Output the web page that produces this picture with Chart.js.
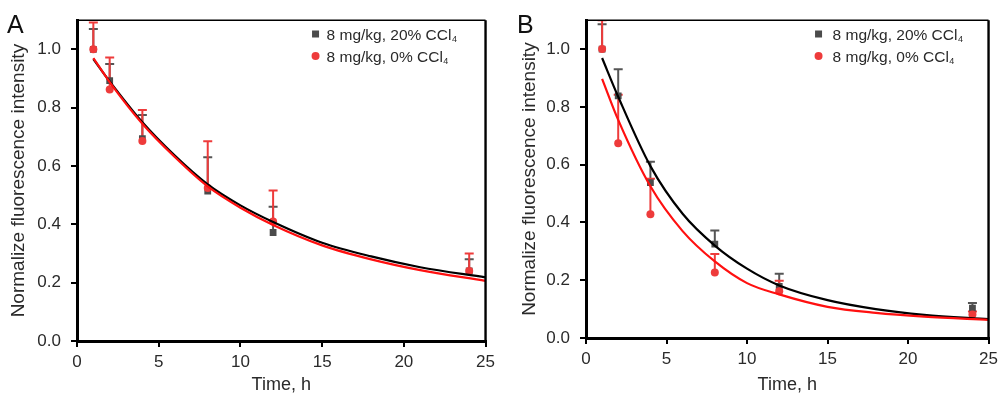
<!DOCTYPE html>
<html>
<head>
<meta charset="utf-8">
<script src="https://cdn.jsdelivr.net/npm/chart.js@4.4.1/dist/chart.umd.min.js"></script>
<style>
  html, body { margin: 0; padding: 0; background: #fff; }
  #wrap { position: relative; width: 1003px; height: 396px; }
  .panel { position: absolute; top: 0; }
  #panelA { left: 0; }
  #panelB { left: 500px; }
</style>
</head>
<body>
<div id="wrap">
  <div class="panel" id="panelA"><canvas id="chartA" width="500" height="396"></canvas></div>
  <div class="panel" id="panelB"><canvas id="chartB" width="503" height="396"></canvas></div>
</div>
<script>
const timePoints = [1, 2, 4, 8, 12, 24];
const curveTimes = [1, 2, 4, 6, 8, 10, 12, 15, 18, 21, 25];
const xTicks = [0, 5, 10, 15, 20, 25];
const yTicks = [0, 0.2, 0.4, 0.6, 0.8, 1.0];
const seriesNames = ["8 mg/kg, 20% CCl", "8 mg/kg, 0% CCl"];
const subscript = "4";

// panel A
const aMean20 = [1.0, 0.893, 0.694, 0.514, 0.372, 0.24];
const aSd20 = [0.07, 0.057, 0.081, 0.116, 0.088, 0.04];
const aMean0 = [1.0, 0.862, 0.686, 0.525, 0.41, 0.24];
const aSd0 = [0.092, 0.11, 0.106, 0.16, 0.106, 0.06];
const aFit20 = [0.967, 0.89, 0.75, 0.635, 0.537, 0.465, 0.408, 0.337, 0.29, 0.253, 0.218];
const aFit0 = [0.97, 0.888, 0.745, 0.63, 0.53, 0.457, 0.398, 0.328, 0.28, 0.243, 0.206];

// panel B
const bMean20 = [1.0, 0.838, 0.538, 0.325, 0.179, 0.103];
const bSd20 = [0.086, 0.092, 0.072, 0.047, 0.043, 0.018];
const bMean0 = [1.0, 0.674, 0.428, 0.227, 0.162, 0.081];
const bSd0 = [0.10, 0.168, 0.123, 0.064, 0.036, 0.011];
const bFit20 = [0.969, 0.835, 0.595, 0.43, 0.32, 0.24, 0.182, 0.131, 0.1, 0.08, 0.065];
const bFit0 = [0.897, 0.755, 0.525, 0.37, 0.265, 0.19, 0.151, 0.108, 0.087, 0.074, 0.063];

const GRAY = "#4b4b4b";
const GRAY_BAR = "#555555";
const RED = "#ee3b3b";
const RED_LINE = "#ff1010";
const FONT = "'Liberation Sans', Arial, sans-serif";

Chart.defaults.font.family = FONT;
Chart.defaults.color = "#2a2a2a";

function toPoints(xs, ys) {
  return xs.map((x, i) => ({ x: x, y: ys[i] }));
}

// upward error bars with caps
const errorBars = {
  id: "errorBars",
  beforeDatasetsDraw(chart) {
    const ctx = chart.ctx;
    const area = chart.chartArea;
    const xs = chart.scales.x;
    const ys = chart.scales.y;
    ctx.save();
    ctx.beginPath();
    ctx.rect(area.left, area.top, area.right - area.left, area.bottom - area.top);
    ctx.clip();
    [3, 2].forEach((di) => {
      const ds = chart.data.datasets[di];
      ctx.strokeStyle = ds.barColor;
      ctx.lineWidth = 2;
      ds.data.forEach((p, i) => {
        const px = xs.getPixelForValue(p.x);
        const py = ys.getPixelForValue(p.y);
        const top = ys.getPixelForValue(p.y + ds.errors[i]);
        ctx.beginPath();
        ctx.moveTo(px, py);
        ctx.lineTo(px, top);
        ctx.moveTo(px - 4.5, top);
        ctx.lineTo(px + 4.5, top);
        ctx.stroke();
      });
    });
    ctx.restore();
  },
};

// top/right frame, legend and panel letter
const decorations = {
  id: "decorations",
  afterDraw(chart) {
    const ctx = chart.ctx;
    const area = chart.chartArea;
    const opts = chart.options.plugins.decorations;
    ctx.save();
    ctx.strokeStyle = "#000";
    ctx.lineWidth = 1.6;
    ctx.beginPath();
    ctx.moveTo(area.left, area.top);
    ctx.lineTo(area.right, area.top);
    ctx.stroke();
    ctx.lineWidth = 2.4;
    ctx.beginPath();
    ctx.moveTo(area.right, area.top);
    ctx.lineTo(area.right, area.bottom);
    ctx.stroke();

    // legend
    const mx = area.right - 170;
    const tx = mx + opts.textGap;
    const rows = [34, 56];
    ctx.fillStyle = GRAY;
    ctx.fillRect(mx - 3.5, rows[0] - 3.5, 7, 7);
    ctx.fillStyle = RED;
    ctx.beginPath();
    ctx.arc(mx, rows[1], 4, 0, Math.PI * 2);
    ctx.fill();
    ctx.fillStyle = "#2a2a2a";
    ctx.textBaseline = "alphabetic";
    ctx.textAlign = "left";
    seriesNames.forEach((name, i) => {
      ctx.font = "15.5px " + FONT;
      ctx.fillText(name, tx, rows[i] + 6);
      const w = ctx.measureText(name).width;
      ctx.font = "9px " + FONT;
      ctx.fillText(subscript, tx + w + 0.5, rows[i] + 8);
    });

    // panel letter
    ctx.font = "25px " + FONT;
    ctx.fillStyle = "#111";
    ctx.fillText(opts.letter, opts.letterX, 33);
    ctx.restore();
  },
};

function makeChart(canvasId, cfg) {
  const el = document.getElementById(canvasId).getContext("2d");
  return new Chart(el, {
    type: "scatter",
    data: {
      datasets: [
        {
          data: toPoints(curveTimes, cfg.fit0),
          showLine: true,
          pointRadius: 0,
          borderColor: RED_LINE,
          borderWidth: 2.2,
          cubicInterpolationMode: "monotone",
        },
        {
          data: toPoints(curveTimes, cfg.fit20),
          showLine: true,
          pointRadius: 0,
          borderColor: "#000",
          borderWidth: 2.2,
          cubicInterpolationMode: "monotone",
        },
        {
          label: seriesNames[1],
          data: toPoints(timePoints, cfg.mean0),
          errors: cfg.sd0,
          barColor: RED,
          pointStyle: "circle",
          pointRadius: 4,
          pointBackgroundColor: RED,
          pointBorderWidth: 0,
        },
        {
          label: seriesNames[0],
          data: toPoints(timePoints, cfg.mean20),
          errors: cfg.sd20,
          barColor: GRAY_BAR,
          pointStyle: "rect",
          pointRadius: 4.8,
          pointBackgroundColor: GRAY,
          pointBorderWidth: 0,
        },
      ],
    },
    options: {
      responsive: false,
      devicePixelRatio: 1,
      animation: false,
      events: [],
      layout: {
        padding: { top: 11, right: cfg.padRight, left: 0, bottom: 0 },
      },
      plugins: {
        legend: { display: false },
        tooltip: { enabled: false },
        decorations: { letter: cfg.letter, letterX: cfg.letterX, textGap: cfg.textGap },
      },
      scales: {
        x: {
          type: "linear",
          min: 0,
          max: 25,
          afterFit: (scale) => { scale.height = cfg.xHeight; },
          afterBuildTicks: (scale) => { scale.ticks = xTicks.map((v) => ({ value: v })); },
          ticks: { font: { size: 17 }, padding: 5, maxRotation: 0 },
          grid: { drawOnChartArea: false, drawTicks: true, tickLength: 6, lineWidth: 2, color: "#000" },
          border: { display: true, width: 3, color: "#000" },
          title: { display: true, text: "Time, h", font: { size: 18 }, padding: { top: 0, bottom: 0 } },
        },
        y: {
          type: "linear",
          min: 0,
          max: 1.1,
          afterFit: (scale) => { scale.width = cfg.yWidth; },
          afterBuildTicks: (scale) => { scale.ticks = yTicks.map((v) => ({ value: v })); },
          ticks: { font: { size: 17 }, padding: 10, callback: (v) => v.toFixed(1) },
          grid: { drawOnChartArea: false, drawTicks: true, tickLength: 6, lineWidth: 2, color: "#000" },
          border: { display: true, width: 3, color: "#000" },
          title: {
            display: true,
            text: "Normalize fluorescence intensity",
            font: { size: 19 },
            padding: { top: cfg.titlePad, bottom: 0 },
          },
        },
      },
    },
    plugins: [errorBars, decorations],
  });
}

const chartA = makeChart("chartA", {
  mean20: aMean20, sd20: aSd20, mean0: aMean0, sd0: aSd0,
  fit20: aFit20, fit0: aFit0,
  yWidth: 77, xHeight: 55, padRight: 13, titlePad: 7,
  letter: "A", letterX: 7, textGap: 11,
});

const chartB = makeChart("chartB", {
  mean20: bMean20, sd20: bSd20, mean0: bMean0, sd0: bSd0,
  fit20: bFit20, fit0: bFit0,
  yWidth: 86, xHeight: 58, padRight: 11, titlePad: 18,
  letter: "B", letterX: 17, textGap: 14,
});
</script>
</body>
</html>
